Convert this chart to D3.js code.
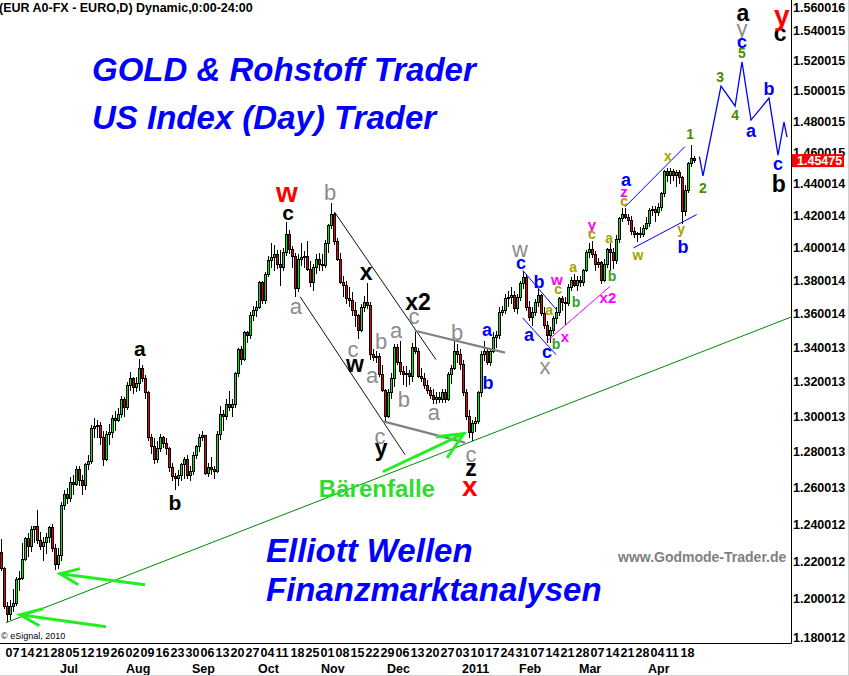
<!DOCTYPE html>
<html><head><meta charset="utf-8">
<script src="https://cdn.jsdelivr.net/npm/d3@7"></script>
<style>
html,body{margin:0;padding:0;background:#fff;}
svg{display:block;}
text{font-family:"Liberation Sans",Arial,sans-serif;}
</style></head><body>
<svg id="c" width="849" height="676"></svg>
<script>
// ---- DATA: EUR/USD daily candles, Jun 3 2010 .. Apr 22 2011 (index 0 = Jun 3) ----
const open = [
1.2245,1.2160,
1.1960,1.1915,1.1960,1.1975,1.2100,
1.2110,1.2210,1.2320,1.2280,1.2370,
1.2385,1.2310,1.2280,1.2300,1.2330,
1.2380,1.2270,1.2180,1.2230,1.2500,
1.2565,1.2540,1.2630,1.2620,1.2700,
1.2640,1.2610,1.2730,1.2745,1.2935,
1.2945,1.2950,1.2880,1.2760,1.2900,
1.2910,1.2990,1.2980,1.3010,1.3100,
1.3050,1.3180,1.3220,1.3170,1.3190,
1.3280,1.3220,1.3140,1.2880,1.2830,
1.2760,1.2820,1.2880,1.2850,1.2820,
1.2710,1.2660,1.2650,1.2670,1.2730,
1.2760,1.2670,1.2690,1.2780,1.2830,
1.2880,1.2890,1.2680,1.2710,1.2700,
1.2690,1.2900,1.3010,1.3000,1.3070,
1.3050,1.3070,1.3250,1.3390,1.3330,
1.3490,1.3470,1.3590,1.3620,1.3640,
1.3790,1.3680,1.3840,1.3920,1.3940,
1.3960,1.3900,1.3880,1.3970,1.4080,
1.3990,1.3950,1.3750,1.3930,1.3940,
1.3950,1.3870,1.3790,1.3880,1.3930,
1.3900,1.3890,1.4030,1.4140,1.4210,
1.4040,1.3930,1.3790,1.3770,1.3690,
1.3680,1.3620,1.3590,1.3500,1.3640,
1.3670,1.3650,1.3360,1.3340,1.3350,
1.3240,1.3150,1.3000,1.3140,1.3220,
1.3400,1.3310,1.3260,1.3240,1.3250,
1.3230,1.3400,1.3380,1.3230,1.3220,
1.3180,1.3150,1.3120,1.3100,1.3110,
1.3100,1.3140,1.3100,1.3240,1.3280,
1.3380,1.3360,1.3300,1.3140,1.3000,
1.2910,1.2960,1.2970,1.3140,1.3360,
1.3380,1.3310,1.3380,1.3460,1.3470,
1.3610,1.3620,1.3690,1.3700,1.3710,
1.3630,1.3700,1.3780,1.3820,1.3640,
1.3580,1.3610,1.3670,1.3710,1.3600,
1.3530,1.3470,1.3500,1.3570,1.3610,
1.3690,1.3670,1.3660,1.3760,1.3800,
1.3770,1.3800,1.3790,1.3860,1.3970,
1.3990,1.3960,1.3900,1.3910,1.3800,
1.3900,1.3990,1.3970,1.3920,1.4050,
1.4180,1.4210,1.4190,1.4170,1.4100,
1.4080,1.4090,1.4080,1.4120,1.4150,
1.4230,1.4240,1.4220,1.4250,1.4340,
1.4480,1.4450,1.4480,1.4450,1.4470,
1.4440,1.4225,1.4360,1.4530,1.4560];
const high = [
1.2320,1.2170,
1.1985,1.1995,1.2050,1.2115,1.2150,
1.2300,1.2330,1.2350,1.2390,1.2390,
1.2480,1.2360,1.2330,1.2350,1.2390,
1.2400,1.2290,1.2270,1.2520,1.2590,
1.2600,1.2660,1.2670,1.2720,1.2720,
1.2670,1.2740,1.2780,1.2950,1.2990,
1.2980,1.2970,1.2920,1.2920,1.2960,
1.3010,1.3030,1.3050,1.3120,1.3110,
1.3200,1.3260,1.3230,1.3230,1.3333,
1.3300,1.3240,1.3150,1.2900,1.2880,
1.2860,1.2900,1.2890,1.2880,1.2830,
1.2740,1.2680,1.2700,1.2740,1.2770,
1.2780,1.2720,1.2800,1.2840,1.2900,
1.2920,1.2895,1.2740,1.2770,1.2720,
1.2920,1.3060,1.3040,1.3100,1.3150,
1.3100,1.3260,1.3400,1.3410,1.3500,
1.3500,1.3610,1.3650,1.3680,1.3800,
1.3800,1.3850,1.3950,1.4030,1.4020,
1.3990,1.3990,1.4000,1.4160,1.4110,
1.4010,1.3970,1.3960,1.4030,1.3980,
1.4040,1.3920,1.3900,1.3960,1.3970,
1.3960,1.4050,1.4150,1.4282,1.4225,
1.4060,1.3970,1.3830,1.3800,1.3760,
1.3730,1.3670,1.3600,1.3660,1.3710,
1.3786,1.3670,1.3390,1.3380,1.3370,
1.3300,1.3160,1.3160,1.3250,1.3420,
1.3420,1.3440,1.3290,1.3290,1.3270,
1.3430,1.3500,1.3400,1.3280,1.3250,
1.3210,1.3170,1.3160,1.3140,1.3140,
1.3160,1.3160,1.3260,1.3300,1.3440,
1.3420,1.3390,1.3330,1.3160,1.3040,
1.2980,1.3000,1.3150,1.3380,1.3440,
1.3400,1.3400,1.3490,1.3500,1.3640,
1.3650,1.3720,1.3740,1.3760,1.3740,
1.3720,1.3800,1.3860,1.3840,1.3680,
1.3640,1.3690,1.3750,1.3720,1.3640,
1.3560,1.3520,1.3590,1.3640,1.3700,
1.3710,1.3700,1.3780,1.3820,1.3840,
1.3830,1.3830,1.3870,1.3990,1.4033,
1.4040,1.3980,1.3940,1.3920,1.3930,
1.4000,1.4030,1.4000,1.4080,1.4190,
1.4250,1.4250,1.4210,1.4200,1.4130,
1.4100,1.4130,1.4140,1.4190,1.4250,
1.4260,1.4260,1.4280,1.4350,1.4490,
1.4500,1.4500,1.4495,1.4490,1.4490,
1.4450,1.4390,1.4540,1.4649,1.4580];
const low = [
1.2150,1.1945,
1.1876,1.1890,1.1930,1.1960,1.2040,
1.2100,1.2200,1.2220,1.2250,1.2300,
1.2290,1.2260,1.2200,1.2240,1.2300,
1.2250,1.2152,1.2160,1.2200,1.2480,
1.2510,1.2520,1.2560,1.2610,1.2610,
1.2560,1.2590,1.2700,1.2730,1.2880,
1.2880,1.2840,1.2720,1.2750,1.2840,
1.2880,1.2920,1.2970,1.2990,1.3000,
1.3040,1.3150,1.3130,1.3140,1.3150,
1.3200,1.3100,1.2860,1.2790,1.2730,
1.2740,1.2800,1.2820,1.2780,1.2690,
1.2640,1.2588,1.2610,1.2640,1.2650,
1.2650,1.2640,1.2670,1.2760,1.2800,
1.2860,1.2670,1.2660,1.2670,1.2650,
1.2680,1.2870,1.2920,1.2980,1.3030,
1.3000,1.3050,1.3230,1.3300,1.3320,
1.3430,1.3450,1.3560,1.3580,1.3630,
1.3660,1.3660,1.3820,1.3880,1.3860,
1.3870,1.3770,1.3860,1.3950,1.3960,
1.3880,1.3700,1.3730,1.3890,1.3880,
1.3860,1.3760,1.3735,1.3840,1.3860,
1.3860,1.3880,1.3970,1.4120,1.4020,
1.3920,1.3780,1.3700,1.3660,1.3640,
1.3590,1.3520,1.3450,1.3490,1.3610,
1.3630,1.3330,1.3320,1.3310,1.3230,
1.3140,1.2969,1.2990,1.3100,1.3170,
1.3300,1.3240,1.3180,1.3170,1.3180,
1.3200,1.3360,1.3220,1.3200,1.3160,
1.3130,1.3100,1.3070,1.3070,1.3080,
1.3080,1.3080,1.3090,1.3190,1.3270,
1.3310,1.3270,1.3120,1.2980,1.2880,
1.2860,1.2910,1.2960,1.3110,1.3320,
1.3300,1.3290,1.3370,1.3400,1.3450,
1.3590,1.3600,1.3640,1.3660,1.3610,
1.3600,1.3680,1.3750,1.3620,1.3560,
1.3530,1.3590,1.3640,1.3590,1.3510,
1.3430,1.3430,1.3480,1.3540,1.3590,
1.3620,1.3536,1.3650,1.3740,1.3760,
1.3740,1.3760,1.3770,1.3850,1.3940,
1.3940,1.3860,1.3880,1.3780,1.3790,
1.3880,1.3860,1.3870,1.3900,1.4030,
1.4160,1.4180,1.4140,1.4080,1.4060,
1.4035,1.4060,1.4070,1.4110,1.4130,
1.4200,1.4160,1.4200,1.4230,1.4320,
1.4410,1.4400,1.4420,1.4380,1.4400,
1.4150,1.4200,1.4340,1.4510,1.4530];
const close = [
1.2160,1.1960,
1.1915,1.1960,1.1975,1.2100,1.2110,
1.2210,1.2320,1.2280,1.2370,1.2385,
1.2310,1.2280,1.2300,1.2330,1.2380,
1.2270,1.2180,1.2230,1.2500,1.2565,
1.2540,1.2630,1.2620,1.2700,1.2640,
1.2610,1.2730,1.2745,1.2935,1.2945,
1.2950,1.2880,1.2760,1.2900,1.2910,
1.2990,1.2980,1.3010,1.3100,1.3050,
1.3180,1.3220,1.3170,1.3190,1.3280,
1.3220,1.3140,1.2880,1.2830,1.2760,
1.2820,1.2880,1.2850,1.2820,1.2710,
1.2660,1.2650,1.2670,1.2730,1.2760,
1.2670,1.2690,1.2780,1.2830,1.2880,
1.2890,1.2680,1.2710,1.2700,1.2690,
1.2900,1.3010,1.3000,1.3070,1.3050,
1.3070,1.3250,1.3390,1.3330,1.3490,
1.3470,1.3590,1.3620,1.3640,1.3790,
1.3680,1.3840,1.3920,1.3940,1.3960,
1.3900,1.3880,1.3970,1.4080,1.3990,
1.3950,1.3750,1.3930,1.3940,1.3950,
1.3870,1.3790,1.3880,1.3930,1.3900,
1.3890,1.4030,1.4140,1.4210,1.4040,
1.3930,1.3790,1.3770,1.3690,1.3680,
1.3620,1.3590,1.3500,1.3640,1.3670,
1.3650,1.3360,1.3340,1.3350,1.3240,
1.3150,1.3000,1.3140,1.3220,1.3400,
1.3310,1.3260,1.3240,1.3250,1.3230,
1.3400,1.3380,1.3230,1.3220,1.3180,
1.3150,1.3120,1.3100,1.3110,1.3100,
1.3140,1.3100,1.3240,1.3280,1.3380,
1.3360,1.3300,1.3140,1.3000,1.2910,
1.2960,1.2970,1.3140,1.3360,1.3380,
1.3310,1.3380,1.3460,1.3470,1.3610,
1.3620,1.3690,1.3700,1.3710,1.3630,
1.3700,1.3780,1.3820,1.3640,1.3580,
1.3610,1.3670,1.3710,1.3600,1.3530,
1.3470,1.3500,1.3570,1.3610,1.3690,
1.3670,1.3660,1.3760,1.3800,1.3770,
1.3800,1.3790,1.3860,1.3970,1.3990,
1.3960,1.3900,1.3910,1.3800,1.3900,
1.3990,1.3970,1.3920,1.4050,1.4180,
1.4210,1.4190,1.4170,1.4100,1.4080,
1.4090,1.4080,1.4120,1.4150,1.4230,
1.4240,1.4220,1.4250,1.4340,1.4480,
1.4450,1.4480,1.4450,1.4470,1.4440,
1.4225,1.4360,1.4530,1.4560,1.45475];
const lastPrice = 1.45475;

// axis ticks
const yTicks = [1.560016,1.540015,1.520015,1.500015,1.480015,1.460015,1.440014,1.420014,1.400014,1.380014,
  1.360014,1.340013,1.320013,1.300013,1.280013,1.260013,1.240012,1.220012,1.200012,1.180012];
const dayTicks = ["07","14","21","28","05","12","19","26","02","09","16","23","30","06","13","20","27",
  "04","11","18","25","01","08","15","22","29","06","13","20","27","03","10","17","24","31",
  "07","14","21","28","07","14","21","28","04","11","18"];
const dayTickIdx = [2,7,12,17,22,27,32,37,42,47,52,57,62,67,72,77,82,87,92,97,102,107,112,117,122,127,
  132,137,142,147,152,157,162,167,172,177,182,187,192,197,202,207,212,217,222,227];
const months = ["Jul","Aug","Sep","Oct","Nov","Dec","2011","Feb","Mar","Apr"];
const monthIdx = [20,42,64,86,107,129,154,173,193,216];

// projection path (index, price)
const projection = [[232.8,1.4573],[234,1.4450],[240,1.5032],[244.7,1.4901],[247,1.5192],
  [250,1.4809],[256,1.4953],[259,1.4583],[261,1.4796],[262,1.4699]];

// annotation lines (index, price)
const trendAnchors = [[1.7,1.1875],[157,1.2860]];
const blackChannel = [[[111.3,1.4219],[145,1.3330]],[[99.7,1.3703],[134.7,1.2784]]];
const greyChannel  = [[[138,1.3500],[168,1.3371]],[[127.4,1.2973],[154.7,1.2852]]];
const blueThin     = [[[173.9,1.3863],[185.2,1.3625]],[[173.9,1.3576],[185,1.3359]],
                      [[208,1.4255],[228,1.4638]],[[210.8,1.4000],[231.9,1.4207]]];
const magentaLine  = [[[181.9,1.3437],[203,1.3765]]];
const arrows = [
  [[[35,1.1854],[6.33,1.1916]],[[14.1,1.1948],[6.33,1.1916],[12.8,1.1859]]],
  [[[48,1.2074],[19.7,1.2133]],[[26.3,1.2160],[19.7,1.2133],[25.8,1.2074]]],
  [[[127.3,1.2689],[154.3,1.2903]],[[145,1.2886],[154.3,1.2903],[148.7,1.2767]]]
];
const baerenfalle = ["Bärenfalle",125.3,1.2595];

// wave labels [text, index, price]
const blackLabels = [["a",46.3,1.3394],["b",58,1.2518],["c",95.7,1.4219]];
const blackLarge = [["x",121.7,1.3855],["x2",139,1.3673],["w",118,1.3307],["y",126.7,1.2823],["z",156.7,1.2711],
  ["a",247.3,1.5522],["c",259.7,1.5386],["b",259.3,1.4401]];
const redLabels = [["w",95.3,1.4344],["x",156.3,1.2606],["y",260.3,1.5505]];
const greyLabels = [["b",109.7,1.4344],["a",98.3,1.3643],["c",117.3,1.3388],["a",123.7,1.3236],["a",131.7,1.3500],
  ["b",126.7,1.3435],["b",134.3,1.3097],["a",144.3,1.3023],["c",137.7,1.3584],["b",152,1.3488],["c",126.3,1.2886],
  ["c",156.7,1.2784],["w",173,1.3990],["x",181.3,1.3289],["y",247,1.5420]];
const blueLabels = [["a",162,1.3506],["b",162.3,1.3196],["c",173.3,1.3910],["b",179.3,1.3794],["a",176,1.3477],
  ["c",182,1.3376],["a",208.3,1.4426],["b",227.3,1.4008],["c",247,1.5326],["a",250,1.4739],["b",256,1.5014],["c",259,1.4527]];
const magentaLabels = [["w",185.3,1.3806],["x",188,1.3465],["x2",202.3,1.3697],["y",197,1.4144],["z",207.7,1.4350]];
const oliveLabels = [["c",185.7,1.3751],["a",182.7,1.3625],["a",190.7,1.3885],["c",197,1.4088],["a",202.7,1.4063],
  ["c",207.7,1.4294],["w",212.3,1.3959],["x",222.3,1.4579],["y",226.7,1.4119]];
const greenLabels = [["b",185,1.3418],["b",191.7,1.3673],["b",203.7,1.3830]];
const numberLabels = [["1",229.7,1.4720],["2",234,1.4376],["3",239.7,1.5092],["4",244.7,1.4842],["5",247,1.5252]];

// ---- CHART ----
const plotR = 791, plotB = 643;
const svg = d3.select("#c");
svg.append("rect").attr("width",849).attr("height",676).attr("fill","#fff");
const x = d3.scaleLinear().domain([0, 263.3333]).range([1, plotR]);
const y = d3.scaleLog().domain([1.56112, 1.17693]).range([0, plotB]);

svg.append("clipPath").attr("id","clip").append("rect").attr("width",plotR).attr("height",plotB);
const g = svg.append("g").attr("clip-path","url(#clip)");

// trend line (straight on log chart)
{
  const [a,b] = trendAnchors;
  const la = Math.log(a[1]), lb = Math.log(b[1]);
  const endI = 263.3333;
  const endP = Math.exp(la + (lb-la)*(endI-a[0])/(b[0]-a[0]));
  g.append("line").attr("x1",x(a[0])).attr("y1",y(a[1])).attr("x2",x(endI)).attr("y2",y(endP))
   .attr("stroke","#008a00").attr("stroke-width",1);
}

// candles
const candles = d3.range(close.length).map(i=>({i,o:open[i],h:high[i],l:low[i],c:close[i]}));
const cg = g.append("g").attr("shape-rendering","crispEdges");
cg.selectAll("line.w").data(candles).join("line")
  .attr("x1",d=>Math.round(x(d.i))+0.5).attr("x2",d=>Math.round(x(d.i))+0.5)
  .attr("y1",d=>y(d.h)).attr("y2",d=>y(d.l)).attr("stroke","#000").attr("stroke-width",1);
cg.selectAll("rect.b").data(candles).join("rect")
  .attr("x",d=>Math.round(x(d.i))-0.5).attr("width",2)
  .attr("y",d=>Math.min(y(d.o),y(d.c)))
  .attr("height",d=>Math.max(1,Math.abs(y(d.o)-y(d.c))))
  .attr("fill",d=>d.c>=d.o?"#00ee00":"#ee0000").attr("stroke","#000").attr("stroke-width",1);

const line = d3.line().x(d=>x(d[0])).y(d=>y(d[1]));
function drawLines(arr,color,w){
  g.append("g").selectAll("path").data(arr).join("path").attr("d",line)
   .attr("fill","none").attr("stroke",color).attr("stroke-width",w);
}
drawLines(blackChannel,"#111",1);
drawLines(greyChannel,"#808080",2.2);
drawLines(blueThin,"#0000ff",1);
drawLines(magentaLine,"#ff00ff",1);
arrows.forEach(a=>drawLines(a,"#22ee22",3));
g.append("path").datum(projection).attr("d",line).attr("fill","none").attr("stroke","#0000ff").attr("stroke-width",1.3);

function drawLabels(arr,color,size,weight){
  g.append("g").selectAll("text").data(arr).join("text")
   .attr("x",d=>x(d[1])).attr("y",d=>y(d[2])).attr("dy","0.35em").attr("text-anchor","middle")
   .attr("fill",color).style("font-size",size+"px").style("font-weight",weight).text(d=>d[0]);
}
drawLabels(blackLabels,"#000",21,"bold");
drawLabels(blackLarge,"#000",23,"bold");
drawLabels(redLabels,"#ff0000",28,"bold");
drawLabels(greyLabels,"#8c8c8c",22,"normal");
drawLabels(blueLabels,"#0000ff",18,"bold");
drawLabels(magentaLabels,"#ff00ff",15,"bold");
drawLabels(oliveLabels,"#a3a300",14,"bold");
drawLabels(greenLabels,"#2f9f2f",14,"bold");
drawLabels(numberLabels,"#4a8c00",14,"bold");
g.append("text").attr("x",x(baerenfalle[1])).attr("y",y(baerenfalle[2])).attr("dy","0.35em")
 .attr("text-anchor","middle").attr("fill","#2edc2e").style("font-size","24px").style("font-weight","bold")
 .text(baerenfalle[0]);

// titles
const titles = [["GOLD & Rohstoff Trader",92,81],["US Index (Day) Trader",92,129],
                ["Elliott Wellen",266,562],["Finanzmarktanalysen",266,601]];
svg.append("g").selectAll("text").data(titles).join("text")
  .attr("x",d=>d[1]).attr("y",d=>d[2]).attr("fill","#0000ff")
  .style("font-size","33px").style("font-weight","bold").style("font-style","italic").text(d=>d[0]);
svg.append("text").attr("x",618).attr("y",562).attr("fill","#808080")
  .style("font-size","14px").style("font-weight","bold").text("www.Godmode-Trader.de");
svg.append("text").attr("x",-1).attr("y",12).attr("fill","#000")
  .style("font-size","12.5px").style("font-weight","bold").text("(EUR A0-FX - EURO,D) Dynamic,0:00-24:00");
svg.append("text").attr("x",1).attr("y",639).attr("fill","#000")
  .style("font-size","9px").text("© eSignal, 2010");

// axes
svg.append("line").attr("x1",plotR+0.5).attr("x2",plotR+0.5).attr("y1",0).attr("y2",plotB+0.5).attr("stroke","#000");
svg.append("line").attr("x1",0).attr("x2",plotR+0.5).attr("y1",plotB+0.5).attr("y2",plotB+0.5).attr("stroke","#000");
svg.append("g").selectAll("text").data(yTicks).join("text")
  .attr("x",plotR+2).attr("y",d=>Math.max(y(d),7)).attr("dy","0.36em")
  .style("font-size","12.5px").style("font-weight","bold").attr("fill","#000").text(d=>d.toFixed(6));
svg.append("g").selectAll("text").data(dayTicks).join("text")
  .attr("x",(d,k)=>x(dayTickIdx[k])-1.5).attr("y",657)
  .style("font-size","12.5px").style("font-weight","bold").attr("fill","#000").text(d=>d);
svg.append("g").selectAll("text").data(months).join("text")
  .attr("x",(d,k)=>x(monthIdx[k])-1).attr("y",673)
  .style("font-size","12.5px").style("font-weight","bold").attr("fill","#000").text(d=>d);

// last price box
const ly = y(lastPrice);
svg.append("rect").attr("x",plotR+1).attr("y",ly-6.5).attr("width",52).attr("height",13).attr("fill","#ff0000");
svg.append("text").attr("x",plotR+6).attr("y",ly).attr("dy","0.36em").attr("fill","#fff")
  .style("font-size","12.5px").style("font-weight","bold").text(lastPrice.toFixed(5));

// outer border (right/bottom)
svg.append("line").attr("x1",848.5).attr("x2",848.5).attr("y1",0).attr("y2",676).attr("stroke","#d0d0d0");
svg.append("line").attr("x1",0).attr("x2",849).attr("y1",675.5).attr("y2",675.5).attr("stroke","#d0d0d0");
</script>
</body></html>
